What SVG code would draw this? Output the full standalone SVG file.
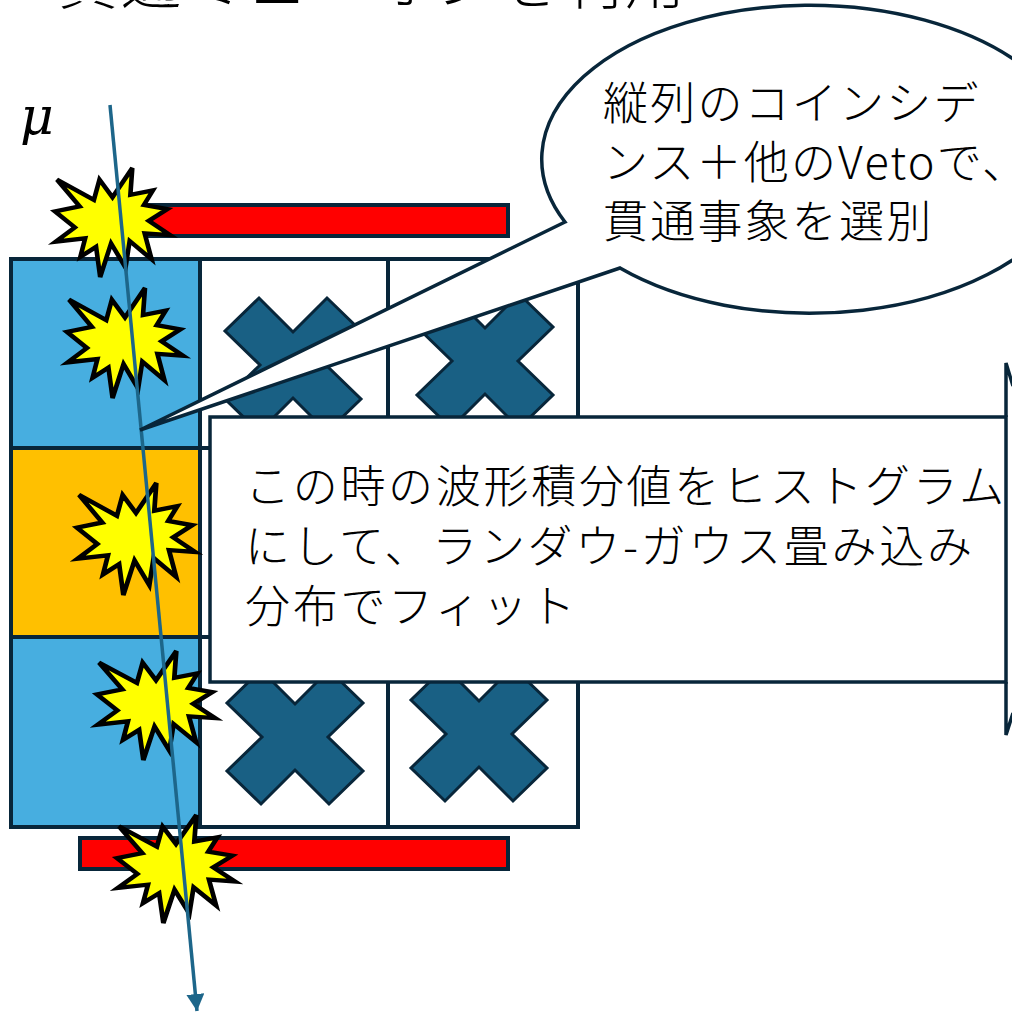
<svg xmlns="http://www.w3.org/2000/svg" width="1012" height="1013" viewBox="0 0 1012 1013">
  <style>
    .cell { stroke: #08263a; stroke-width: 4; }
    .bar { fill: #ff0000; stroke: #08263a; stroke-width: 4; }
    .xmark { fill: #196084; stroke: #08263a; stroke-width: 3; stroke-linejoin: miter; }
    .boom { fill: #ffff00; stroke: #000000; stroke-width: 4; stroke-linejoin: miter; vector-effect: non-scaling-stroke; }
    .callout { fill: #ffffff; stroke: #08263a; stroke-width: 3.5; stroke-linejoin: miter; }
    .jp { font-family: "Noto Sans CJK JP", "Noto Sans", sans-serif; font-weight: 300; fill: #000000; }
    .sym { font-family: "DejaVu Serif", "Liberation Serif", serif; font-style: italic; fill: #000000; }
  </style>
  <defs>
    <!-- irregular seal "explosion" in a 100x100 box -->
    <path id="seal" d="M50,26.85 L67.23,0 L65.53,24.65 L85.09,20.63 L77.32,33.86 L97.67,37.67 L81.51,48.5 L100,61.53 L77.95,59.92 L84,83.77 L64.91,66.93 L61.33,91.36 L48.76,69.14 L39.28,100 L35.72,72.35 L22.05,81.56 L26.24,64.52 L0.63,67.53 L17.23,54.51 L0,39.88 L21.42,35.26 L1.71,10.63 L33.85,29.26 L38.67,10.63 Z"/>
    <!-- multiplication mark centred on the origin -->
    <polygon id="xshape" points="0,-33 34,-67 68,-34 33,0 68,34 34,67 0,33 -34,67 -68,34 -33,0 -68,-34 -34,-67"/>
    <marker id="arrowhead" markerUnits="userSpaceOnUse" markerWidth="20" markerHeight="20" refX="17" refY="9" orient="auto">
      <path d="M0,0 L17,9 L0,18 Z" fill="#1d668a"/>
    </marker>
  </defs>

  <!-- heading, clipped by the top edge -->
  <text id="title" class="jp" x="58" y="4" font-size="60" letter-spacing="3">貫通ミューオンを利用</text>

  <!-- veto bars -->
  <g id="veto-top"><rect class="bar" x="130" y="205" width="378" height="31"/></g>
  <g id="veto-bottom"><rect class="bar" x="80" y="838" width="428" height="31"/></g>

  <!-- 3x3 detector array -->
  <g id="array">
    <rect class="cell" x="11" y="259" width="189" height="189" fill="#47aee0"/>
    <rect class="cell" x="11" y="448" width="189" height="189" fill="#ffc000"/>
    <rect class="cell" x="11" y="637" width="189" height="190" fill="#47aee0"/>
    <rect class="cell" x="200" y="259" width="188" height="189" fill="#ffffff"/>
    <rect class="cell" x="200" y="448" width="188" height="189" fill="#ffffff"/>
    <rect class="cell" x="200" y="637" width="188" height="190" fill="#ffffff"/>
    <rect class="cell" x="388" y="259" width="190" height="189" fill="#ffffff"/>
    <rect class="cell" x="388" y="448" width="190" height="189" fill="#ffffff"/>
    <rect class="cell" x="388" y="637" width="190" height="190" fill="#ffffff"/>
  </g>

  <!-- vetoed modules -->
  <g id="vetoed">
    <use href="#xshape" class="xmark" transform="translate(293,365)"/>
    <use href="#xshape" class="xmark" transform="translate(485,361)"/>
    <use href="#xshape" class="xmark" transform="translate(295,737)"/>
    <use href="#xshape" class="xmark" transform="translate(479,734)"/>
  </g>

  <!-- hits along the track -->
  <g id="hits">
    <use href="#seal" class="boom" transform="translate(55,168) scale(1.15,1.09)"/>
    <use href="#seal" class="boom" transform="translate(67,288) scale(1.16,1.1)"/>
    <use href="#seal" class="boom" transform="translate(77,483) scale(1.18,1.12)"/>
    <use href="#seal" class="boom" transform="translate(97,651) scale(1.18,1.09)"/>
    <use href="#seal" class="boom" transform="translate(117,815) scale(1.18,1.08)"/>
  </g>

  <!-- muon track -->
  <g id="connectors">
    <line x1="110" y1="105" x2="197" y2="1011" stroke="#1d668a" stroke-width="3.5" marker-end="url(#arrowhead)"/>
  </g>
  <text id="mu" class="sym" x="20" y="134" font-size="52">μ</text>

  <!-- oval callout -->
  <g id="callout-selection">
    <path class="callout" d="M565,222 L140,430 L620,268 A268,154 0 1 0 565,222 Z"/>
    <text class="jp" font-size="45" letter-spacing="2.2">
      <tspan x="603" y="120">縦列のコインシデ</tspan>
      <tspan x="603" y="179">ンス＋他のVetoで、</tspan>
      <tspan x="603" y="238">貫通事象を選別</tspan>
    </text>
  </g>

  <!-- edge of a shape beyond the right border -->
  <g id="edge-shape">
    <path d="M1013,386 L1006,363 L1006,417 M1006,682 L1006,735 L1013,713" fill="none" stroke="#08263a" stroke-width="3.5"/>
  </g>

  <!-- rectangular callout -->
  <g id="callout-fit">
    <rect class="callout" x="210" y="417" width="796" height="265"/>
    <text class="jp" font-size="45" letter-spacing="2.7">
      <tspan x="245" y="503">この時の波形積分値をヒストグラム</tspan>
      <tspan x="245" y="563">にして、ランダウ-ガウス畳み込み</tspan>
      <tspan x="245" y="623">分布でフィット</tspan>
    </text>
  </g>
</svg>
